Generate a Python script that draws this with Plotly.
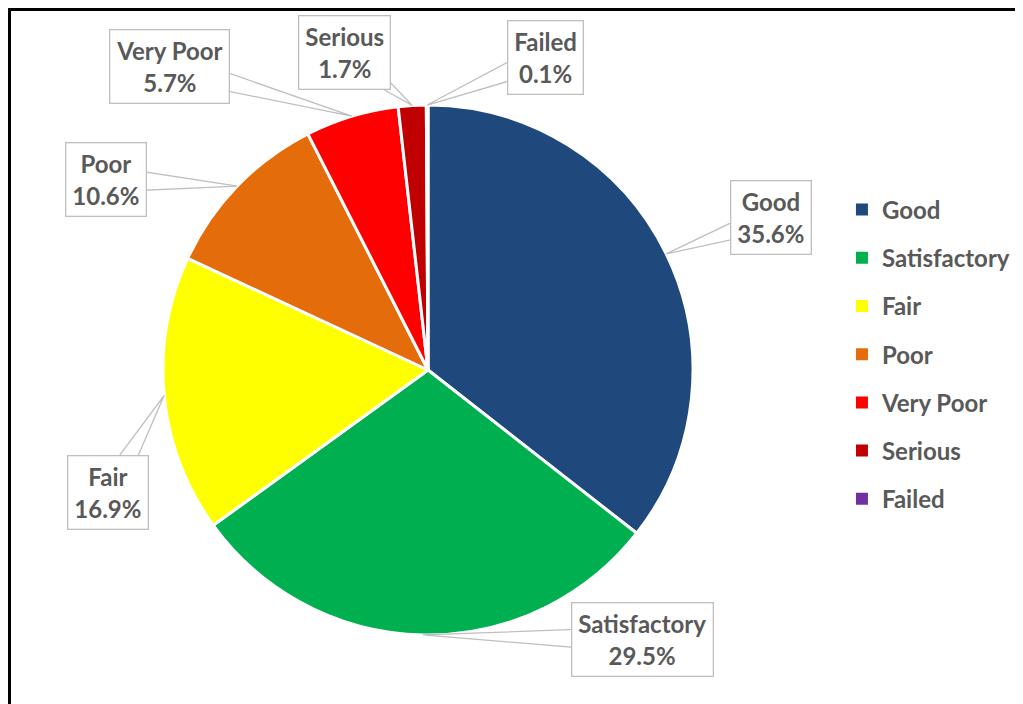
import math
import plotly.graph_objects as go

categories = ["Good", "Satisfactory", "Fair", "Poor", "Very Poor", "Serious", "Failed"]
values = [35.6, 29.5, 16.9, 10.6, 5.7, 1.7, 0.1]
colors = ["#1F497D", "#00B050", "#FFFF00", "#E46C0A", "#FF0000", "#C00000", "#7030A0"]
# label box offsets (px) from slice edge point
label_offsets = [(105, -36), (219, 5), (-56, 97), (-131, -7), (-182, -50), (-68, -53), (118, -48)]

W, H = 1023, 704
CX, CY, R = 420, 362, 265  # pie centre / radius in px (figure coords)
FONT = "Lato"
GRAY = "#595959"
LINE = "#BFBFBF"
WEDGE_HALF = 13


def to_paper(px, py):
    return px / W, 1 - py / H


fig = go.Figure()
fig.add_trace(go.Pie(
    labels=categories, values=values, sort=False, direction="clockwise", rotation=0,
    marker=dict(colors=colors, line=dict(color="white", width=3)),
    textinfo="none", showlegend=False,
    domain=dict(x=[(CX - R) / W, (CX + R) / W], y=[1 - (CY + R) / H, 1 - (CY - R) / H]),
))

# legend entries via invisible scatter traces (to control spacing)
for i, (c, col) in enumerate(zip(categories, colors)):
    fig.add_trace(go.Scatter(x=[None], y=[None], mode="markers", name=c,
                             marker=dict(symbol="square", size=10, color=col),
                             legendgroup=f"g{i}", showlegend=True))

total = sum(values)
cum = 0.0
annotations = []
shapes = []
for c, v, (ox, oy) in zip(categories, values, label_offsets):
    mid = (cum + v / 2) / total * 2 * math.pi
    cum += v
    px = CX + R * math.sin(mid)
    py = CY - R * math.cos(mid)
    bx, by = px + ox, py + oy
    d = math.hypot(ox, oy)
    nx, ny = -oy / d * WEDGE_HALF, ox / d * WEDGE_HALF
    pts = [to_paper(px, py), to_paper(bx + nx, by + ny), to_paper(bx - nx, by - ny)]
    path = "M {} {} L {} {} L {} {} Z".format(*[f"{q:.5f}" for p in pts for q in p])
    shapes.append(dict(type="path", xref="paper", yref="paper", path=path,
                       fillcolor="white", line=dict(color=LINE, width=1.3), layer="above"))
    ax_, ay_ = to_paper(bx, by)
    annotations.append(dict(
        x=ax_, y=ay_, xref="paper", yref="paper", xanchor="center", yanchor="middle",
        text=f"{c}<br>{v:.1f}%", showarrow=False,
        bordercolor=LINE, borderwidth=1.3, borderpad=6, bgcolor="white",
        font=dict(family=FONT, size=24, color=GRAY, weight="bold"),
    ))

shapes.append(dict(type="rect", xref="paper", yref="paper",
                   x0=1.5 / W, x1=1.05, y0=-0.05, y1=1 - 1.5 / H,
                   line=dict(color="black", width=3), layer="above"))

fig.update_layout(
    width=W, height=H, margin=dict(l=0, r=0, t=0, b=0),
    paper_bgcolor="white", plot_bgcolor="white",
    xaxis=dict(visible=False), yaxis=dict(visible=False),
    annotations=annotations,
    legend=dict(x=0.8152, y=0.745, xanchor="left", yanchor="top",
                font=dict(family=FONT, size=24, color=GRAY, weight="bold"),
                tracegroupgap=14, itemsizing="constant", bgcolor="rgba(0,0,0,0)"),
    shapes=shapes,
)

fig.write_html("out.html")
